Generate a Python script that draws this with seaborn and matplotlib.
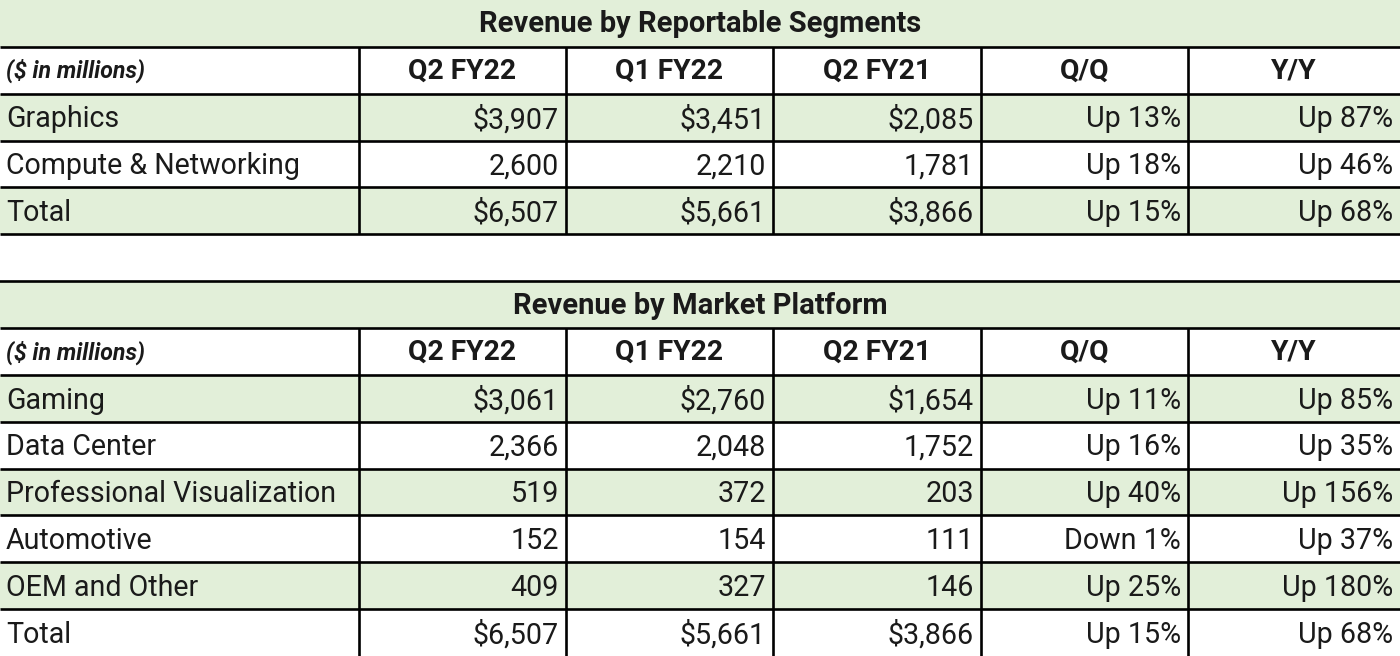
import numpy as np
import pandas as pd
import seaborn as sns
import matplotlib
matplotlib.use("Agg")
import matplotlib.pyplot as plt
from matplotlib.colors import ListedColormap

# ---------------- data ----------------
title_segments = "Revenue by Reportable Segments"
title_platform = "Revenue by Market Platform"
unit_label = "($ in millions)"
col_headers = ["Q2 FY22", "Q1 FY22", "Q2 FY21", "Q/Q", "Y/Y"]

seg_rows = ["Graphics", "Compute & Networking", "Total"]
seg_q2fy22 = ["$3,907", "2,600", "$6,507"]
seg_q1fy22 = ["$3,451", "2,210", "$5,661"]
seg_q2fy21 = ["$2,085", "1,781", "$3,866"]
seg_qq = ["Up 13%", "Up 18%", "Up 15%"]
seg_yy = ["Up 87%", "Up 46%", "Up 68%"]

plat_rows = ["Gaming", "Data Center", "Professional Visualization",
             "Automotive", "OEM and Other", "Total"]
plat_q2fy22 = ["$3,061", "2,366", "519", "152", "409", "$6,507"]
plat_q1fy22 = ["$2,760", "2,048", "372", "154", "327", "$5,661"]
plat_q2fy21 = ["$1,654", "1,752", "203", "111", "146", "$3,866"]
plat_qq = ["Up 11%", "Up 16%", "Up 40%", "Down 1%", "Up 25%", "Up 15%"]
plat_yy = ["Up 85%", "Up 35%", "Up 156%", "Up 37%", "Up 180%", "Up 68%"]

# ---------------- style ----------------
GREEN = "#e2efd9"
TXT = "#1a1a1a"
FONT = "Roboto"
plt.rcParams["font.family"] = [FONT, "DejaVu Sans"]

W, H = 1400, 656
col_edges = np.array([0, 359, 566, 773, 981, 1188, 1400]) / W  # fraction of width

fig = plt.figure(figsize=(W / 100, H / 100), dpi=100)
ax = fig.add_axes([0, 0, 1, 1])

# row layout: title, header, data..., gap, title, header, data...
row_kinds = (["title", "header"] + ["data"] * len(seg_rows) + ["gap"]
             + ["title", "header"] + ["data"] * len(plat_rows))
shade = []
k = 0
for kind in row_kinds:
    if kind == "title":
        shade.append(1)
        k = 0
    elif kind == "data":
        shade.append(1 if k % 2 == 0 else 0)
        k += 1
    else:
        shade.append(0)
n_rows = len(row_kinds)
shade_df = pd.DataFrame({"s": shade})

sns.heatmap(shade_df, cmap=ListedColormap(["white", GREEN]), vmin=0, vmax=1,
            cbar=False, ax=ax, linewidths=0, xticklabels=False, yticklabels=False)
ax.set_xlim(0, 1)
ax.set_ylim(n_rows, 0)
ax.axis("off")

LW = 1.9
FS = 20.6
FS_HEAD = 20.3
FS_TITLE = 21
FS_UNIT = 16.7


def draw_table(start, title, rows, cols_data):
    # title
    ax.text(0.5, start + 0.52, title, ha="center", va="center", fontsize=FS_TITLE,
            fontweight="bold", color=TXT)
    # header
    hr = start + 1
    ax.text(6 / W, hr + 0.52, unit_label, ha="left", va="center", fontsize=FS_UNIT,
            fontweight="bold", fontstyle="italic", color=TXT)
    for j, h in enumerate(col_headers):
        ax.text((col_edges[j + 1] + col_edges[j + 2]) / 2, hr + 0.52, h, ha="center",
                va="center", fontsize=FS_HEAD, fontweight="bold", color=TXT)
    for i, r in enumerate(rows):
        y = hr + 1 + i + 0.55
        ax.text(6 / W, y, r, ha="left", va="center", fontsize=FS, color=TXT)
        for j, col in enumerate(cols_data):
            ax.text(col_edges[j + 2] - 7 / W, y, col[i], ha="right", va="center",
                    fontsize=FS, color=TXT)
    last = hr + 1 + len(rows)
    # horizontal lines
    for yl in range(start + 1, last + 1):
        if yl >= n_rows:
            continue
        ax.plot([0, 1], [yl, yl], color="black", lw=LW, solid_capstyle="butt")
    # vertical lines
    for xe in col_edges[1:-1]:
        ax.plot([xe, xe], [hr, min(last, n_rows)], color="black", lw=LW,
                solid_capstyle="butt")


draw_table(0, title_segments, seg_rows,
           [seg_q2fy22, seg_q1fy22, seg_q2fy21, seg_qq, seg_yy])
p_start = 2 + len(seg_rows) + 1
ax.plot([0, 1], [p_start, p_start], color="black", lw=LW)
draw_table(p_start, title_platform, plat_rows,
           [plat_q2fy22, plat_q1fy22, plat_q2fy21, plat_qq, plat_yy])

fig.savefig("out.png", dpi=100)
